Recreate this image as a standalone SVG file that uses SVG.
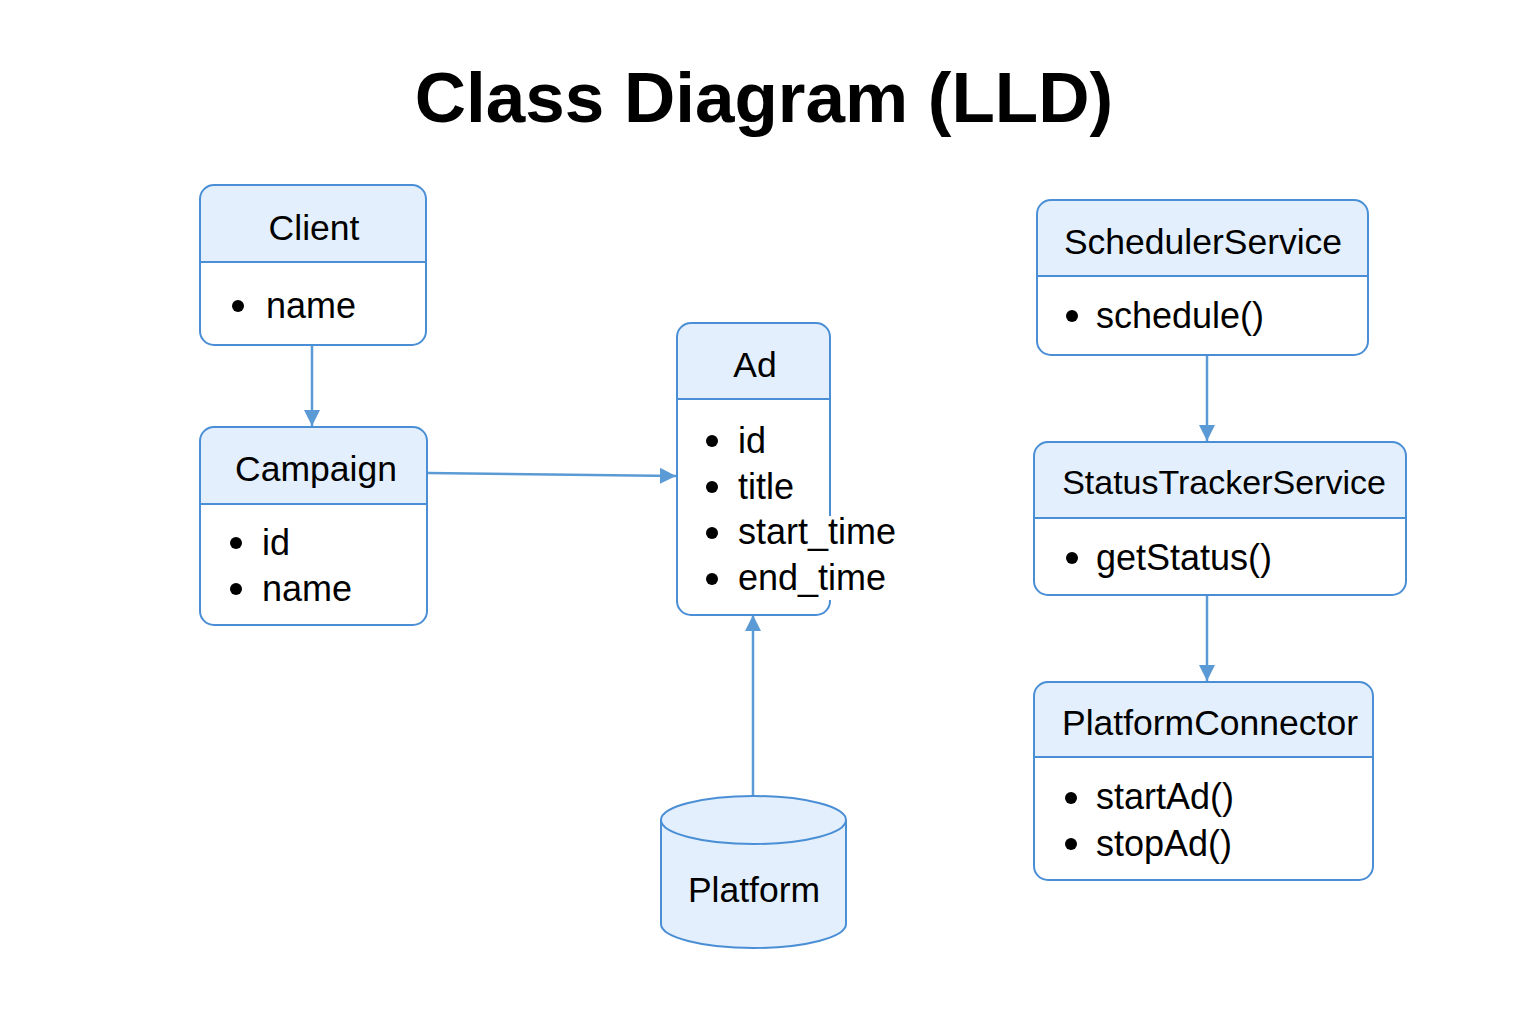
<svg xmlns="http://www.w3.org/2000/svg" width="1536" height="1024" viewBox="0 0 1536 1024">
<defs>
<style>
.box{fill:#ffffff;stroke:#4a8fd6;stroke-width:2}
.hdr{fill:#e3effc}
.div{stroke:#4a8fd6;stroke-width:2}
.t{font-family:"Liberation Sans",Arial,sans-serif;font-size:36px;fill:#000}
.h{font-family:"Liberation Sans",Arial,sans-serif;font-size:35.5px;fill:#000;text-anchor:middle}
.title{font-family:"Liberation Sans",Arial,sans-serif;font-size:71px;font-weight:bold;fill:#000;text-anchor:middle}
.conn{stroke:#5b9bd5;stroke-width:2.5;fill:none;marker-end:url(#arr)}
</style>
<marker id="arr" viewBox="0 0 16 16" refX="16" refY="8" markerWidth="16" markerHeight="16" markerUnits="userSpaceOnUse" orient="auto">
<path d="M0,0 L16,8 L0,16 Z" fill="#5b9bd5"/>
</marker>
</defs>
<rect width="1536" height="1024" fill="#ffffff"/>
<text class="title" x="764" y="122">Class Diagram (LLD)</text>

<g id="connectors">
<line class="conn" x1="312" y1="346" x2="312" y2="426"/>
<line class="conn" x1="428" y1="473" x2="676" y2="476"/>
<line class="conn" x1="753" y1="796" x2="753" y2="615"/>
<line class="conn" x1="1207" y1="356" x2="1207" y2="441"/>
<line class="conn" x1="1207" y1="596" x2="1207" y2="681"/>
</g>

<g id="client">
<path class="hdr" d="M200,262 V199 a14,14 0 0 1 14,-14 H412 a14,14 0 0 1 14,14 V262 Z"/>
<rect class="box" x="200" y="185" width="226" height="160" rx="14" style="fill:none"/>
<line class="div" x1="200" y1="262" x2="426" y2="262"/>
<text class="h" x="314" y="240">Client</text>
<circle cx="238" cy="306" r="6"/>
<text class="t" x="266" y="318">name</text>
</g>

<g id="campaign">
<path class="hdr" d="M200,504 V441 a14,14 0 0 1 14,-14 H413 a14,14 0 0 1 14,14 V504 Z"/>
<rect class="box" x="200" y="427" width="227" height="198" rx="14" style="fill:none"/>
<line class="div" x1="200" y1="504" x2="427" y2="504"/>
<text class="h" x="316" y="481">Campaign</text>
<circle cx="236" cy="543" r="6"/>
<text class="t" x="262" y="555">id</text>
<circle cx="236" cy="589" r="6"/>
<text class="t" x="262" y="601">name</text>
</g>

<g id="ad">
<path class="hdr" d="M677,399 V337 a14,14 0 0 1 14,-14 H816 a14,14 0 0 1 14,14 V399 Z"/>
<rect class="box" x="677" y="323" width="153" height="292" rx="14" style="fill:none"/>
<line class="div" x1="677" y1="399" x2="830" y2="399"/>
<rect x="824" y="516" width="14" height="84" fill="#ffffff"/>
<text class="h" x="755" y="377">Ad</text>
<circle cx="712" cy="441" r="6"/>
<text class="t" x="738" y="453">id</text>
<circle cx="712" cy="487" r="6"/>
<text class="t" x="738" y="499">title</text>
<circle cx="712" cy="533" r="6"/>
<text class="t" x="738" y="544">start_time</text>
<circle cx="712" cy="579" r="6"/>
<text class="t" x="738" y="590">end_time</text>
</g>

<g id="platform">
<path d="M661,820 V924 A92.5,24 0 0 0 846,924 V820" fill="#e3effc" stroke="#4a8fd6" stroke-width="2"/>
<ellipse cx="753.5" cy="820" rx="92.5" ry="24" fill="#e3effc" stroke="#4a8fd6" stroke-width="2"/>
<text class="h" x="754" y="902">Platform</text>
</g>

<g id="scheduler">
<path class="hdr" d="M1037,276 V214 a14,14 0 0 1 14,-14 H1354 a14,14 0 0 1 14,14 V276 Z"/>
<rect class="box" x="1037" y="200" width="331" height="155" rx="14" style="fill:none"/>
<line class="div" x1="1037" y1="276" x2="1368" y2="276"/>
<text class="h" x="1203" y="254">SchedulerService</text>
<circle cx="1072" cy="316" r="6"/>
<text class="t" x="1096" y="328">schedule()</text>
</g>

<g id="statustracker">
<path class="hdr" d="M1034,518 V456 a14,14 0 0 1 14,-14 H1392 a14,14 0 0 1 14,14 V518 Z"/>
<rect class="box" x="1034" y="442" width="372" height="153" rx="14" style="fill:none"/>
<line class="div" x1="1034" y1="518" x2="1406" y2="518"/>
<text class="h" x="1224" y="494" style="font-size:34px">StatusTrackerService</text>
<circle cx="1072" cy="558" r="6"/>
<text class="t" x="1096" y="570">getStatus()</text>
</g>

<g id="platformconnector">
<path class="hdr" d="M1034,757 V696 a14,14 0 0 1 14,-14 H1359 a14,14 0 0 1 14,14 V757 Z"/>
<rect class="box" x="1034" y="682" width="339" height="198" rx="14" style="fill:none"/>
<line class="div" x1="1034" y1="757" x2="1373" y2="757"/>
<text class="h" x="1210" y="735">PlatformConnector</text>
<circle cx="1071" cy="798" r="6"/>
<text class="t" x="1096" y="809">startAd()</text>
<circle cx="1071" cy="844" r="6"/>
<text class="t" x="1096" y="856">stopAd()</text>
</g>
</svg>
